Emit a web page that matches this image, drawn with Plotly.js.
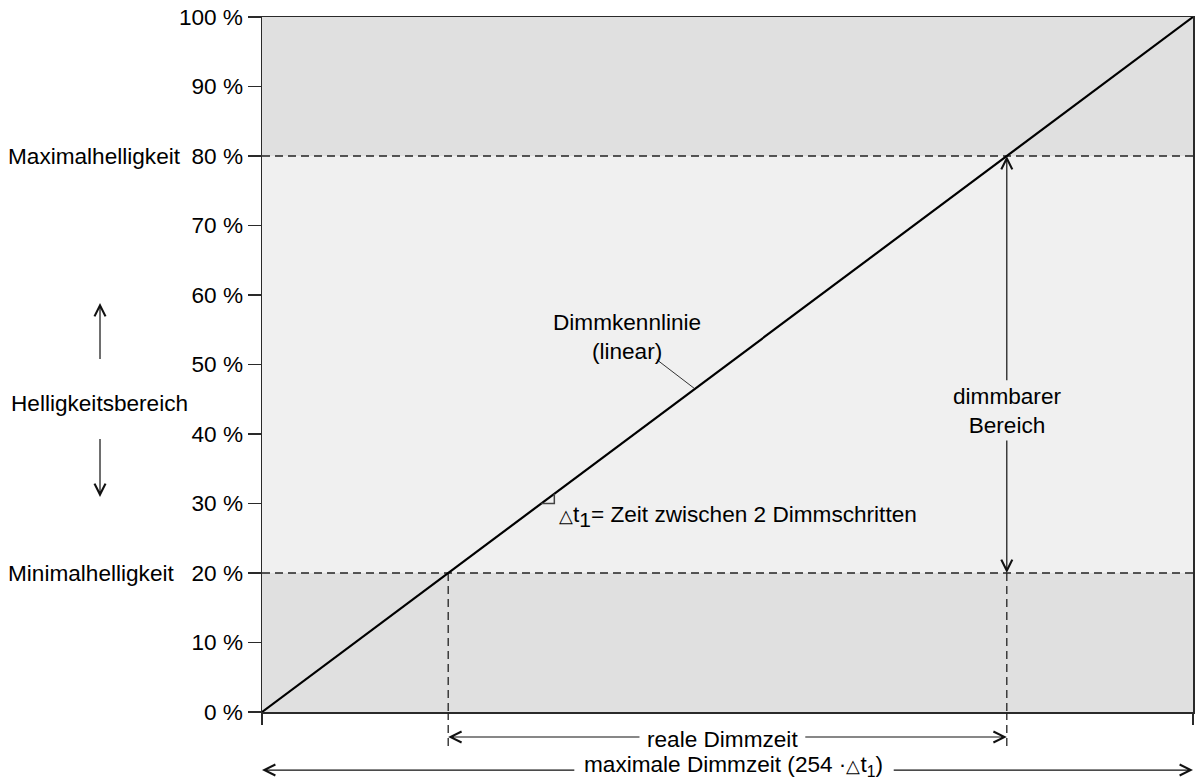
<!DOCTYPE html>
<html><head><meta charset="utf-8">
<script src="https://cdn.plot.ly/plotly-3.0.1.min.js"></script>
<style>html,body{margin:0;padding:0;background:#fff}#chart{width:1203px;height:780px}</style>
</head><body><div id="chart"></div>
<script>
// Dimming curve: time in % of maximum dimming time (254 · Δt1), brightness in %
const timePct = [0, 100];
const brightness = [0, 100];
const minBright = 20;
const maxBright = 80;
const yTickVals = [0, 10, 20, 30, 40, 50, 60, 70, 80, 90, 100];
const yTickText = ['0 %', '10 %', '20 %', '30 %', '40 %', '50 %', '60 %', '70 %', '80 %', '90 %', '100 %'];
const xTickVals = [0, 100];
const xTickText = ['', ''];
// small step marker Δt1 on the curve
const stepX = [30, 31.4, 31.4];
const stepY = [30, 30, 31.4];

// time at which the curve reaches a given brightness
function tAt(b) {
  return timePct[0] + (b - brightness[0]) * (timePct[1] - timePct[0]) / (brightness[1] - brightness[0]);
}
const tMin = tAt(minBright), tMax = tAt(maxBright);

const FONT = 'Liberation Sans, Arial, sans-serif';
const FS = 22.6;
const TXT = '#000';
const LINE = '#2a2a2a';

const traces = [
  {x: timePct, y: brightness, type: 'scatter', mode: 'lines', line: {color: '#000', width: 2.2}, cliponaxis: false, hoverinfo: 'skip'},
  {x: stepX, y: stepY, type: 'scatter', mode: 'lines', line: {color: '#444', width: 1.5}, hoverinfo: 'skip'}
];

const dash = {color: '#222', width: 1.3, dash: '8px,5px'};
const shapes = [
  {type: 'rect', layer: 'below', xref: 'paper', yref: 'y', x0: 0, x1: 1, y0: 0, y1: minBright, fillcolor: '#e0e0e0', line: {width: 0}},
  {type: 'rect', layer: 'below', xref: 'paper', yref: 'y', x0: 0, x1: 1, y0: minBright, y1: maxBright, fillcolor: '#f0f0f0', line: {width: 0}},
  {type: 'rect', layer: 'below', xref: 'paper', yref: 'y', x0: 0, x1: 1, y0: maxBright, y1: 100, fillcolor: '#e0e0e0', line: {width: 0}},
  {type: 'line', layer: 'below', xref: 'paper', yref: 'y', x0: 0, x1: 1, y0: minBright, y1: minBright, line: dash},
  {type: 'line', layer: 'below', xref: 'paper', yref: 'y', x0: 0, x1: 1, y0: maxBright, y1: maxBright, line: dash},
  {type: 'line', layer: 'below', xref: 'x', yref: 'y', x0: tMin, x1: tMin, y0: minBright, y1: 0, line: dash},
  {type: 'line', layer: 'below', xref: 'x', yref: 'y', x0: tMax, x1: tMax, y0: minBright, y1: 0, line: dash},
  {type: 'line', xref: 'x', yref: 'paper', x0: tMin, x1: tMin, y0: 0, y1: -0.052, line: dash},
  {type: 'line', xref: 'x', yref: 'paper', x0: tMax, x1: tMax, y0: 0, y1: -0.052, line: dash},
  // leader line for "Dimmkennlinie"
  {type: 'line', xref: 'x', yref: 'y', x0: 42.4, y0: 50.7, x1: 46.4, y1: 46.6, line: {color: '#333', width: 1}}
];

const f = {family: FONT, size: FS, color: TXT};
const arrowBase = {text: ' ', font: {size: 1, color: 'rgba(0,0,0,0)'}, showarrow: true, arrowhead: 5, arrowsize: 1.8, arrowwidth: 1.2, arrowcolor: '#111', borderpad: 0};
function arrow(o) { return Object.assign({}, arrowBase, o); }
function label(o) { return Object.assign({showarrow: false, font: f, yanchor: 'middle'}, o); }

const yReal = -0.036, yMax = -0.0835;
const TRI = '<span style="font-size:18px">△</span>';

const annotations = [
  label({xref: 'paper', yref: 'y', x: -0.275, y: maxBright, xanchor: 'left', text: 'Maximalhelligkeit'}),
  label({xref: 'paper', yref: 'y', x: -0.275, y: minBright, xanchor: 'left', text: 'Minimalhelligkeit'}),
  label({xref: 'paper', yref: 'y', x: -0.175, y: 44.4, xanchor: 'center', text: 'Helligkeitsbereich'}),
  arrow({xref: 'paper', yref: 'paper', x: -0.174, y: 0.5885, axref: 'pixel', ayref: 'pixel', ax: 0, ay: 57}),
  arrow({xref: 'paper', yref: 'paper', x: -0.174, y: 0.3094, axref: 'pixel', ayref: 'pixel', ax: 0, ay: -59}),
  label({xref: 'x', yref: 'y', x: 39.2, y: 54.0, xanchor: 'center', text: 'Dimmkennlinie<br>(linear)', align: 'center'}),
  label({xref: 'x', yref: 'y', x: 31.7, y: 28.2, xanchor: 'left', text: TRI + 't<sub><span style="font-size:21px">1</span></sub>= Zeit zwischen 2 Dimmschritten'}),
  label({xref: 'x', yref: 'y', x: tMax, y: 43.3, xanchor: 'center', text: 'dimmbarer<br>Bereich', align: 'center'}),
  arrow({xref: 'x', yref: 'y', x: tMax, y: maxBright, axref: 'x', ayref: 'y', ax: tMax, ay: 47.6}),
  arrow({xref: 'x', yref: 'y', x: tMax, y: minBright, axref: 'x', ayref: 'y', ax: tMax, ay: 39.2}),
  label({xref: 'x', yref: 'paper', x: 49.5, y: yReal - 0.004, xanchor: 'center', text: 'reale Dimmzeit'}),
  arrow({xref: 'x', yref: 'paper', x: tMin, y: yReal, axref: 'x', ayref: 'pixel', ax: 40.6, ay: 0}),
  arrow({xref: 'x', yref: 'paper', x: tMax, y: yReal, axref: 'x', ayref: 'pixel', ax: 58.3, ay: 0}),
  label({xref: 'x', yref: 'paper', x: 50.6, y: yMax + 0.006, xanchor: 'center', text: 'maximale Dimmzeit (254 ·' + TRI + 't<sub>1</sub>)'}),
  arrow({xref: 'x', yref: 'paper', x: timePct[0], y: yMax, axref: 'x', ayref: 'pixel', ax: 33.6, ay: 0}),
  arrow({xref: 'x', yref: 'paper', x: timePct[1], y: yMax, axref: 'x', ayref: 'pixel', ax: 67.8, ay: 0})
];

const layout = {
  width: 1203, height: 780,
  margin: {l: 262, r: 10, t: 17, b: 68, pad: 0},
  paper_bgcolor: '#fff', plot_bgcolor: '#f0f0f0',
  showlegend: false, hovermode: false,
  font: {family: FONT, size: FS, color: TXT},
  xaxis: {range: [0, 100], showgrid: false, zeroline: false, showline: true, mirror: true,
          linecolor: LINE, linewidth: 1.5, ticks: 'outside', ticklen: 11, tickwidth: 1.5, tickcolor: LINE,
          tickmode: 'array', tickvals: xTickVals, ticktext: xTickText, fixedrange: true},
  yaxis: {range: [0, 100], showgrid: false, zeroline: false, showline: true, mirror: true,
          linecolor: LINE, linewidth: 1.5, ticks: 'outside', ticklen: 13, tickwidth: 1.5, tickcolor: LINE,
          tickmode: 'array', tickvals: yTickVals, ticktext: yTickText, tickfont: {family: FONT, size: FS, color: TXT}, fixedrange: true},
  shapes: shapes,
  annotations: annotations
};

Plotly.newPlot('chart', traces, layout, {displayModeBar: false, staticPlot: true});
</script>
</body></html>
